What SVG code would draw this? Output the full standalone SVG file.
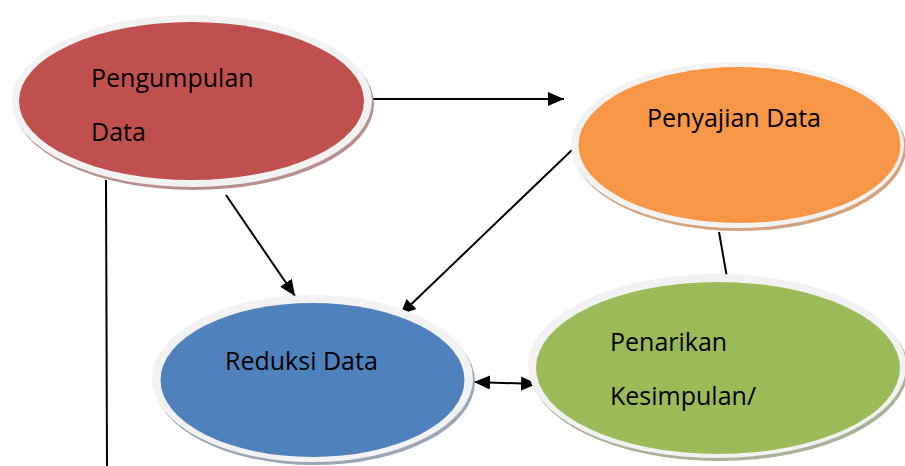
<svg xmlns="http://www.w3.org/2000/svg" width="905" height="466" viewBox="0 0 905 466">
<defs>
<style>
.ring{fill:#F2F2F2}
.t{font-family:"Open Sans","Liberation Sans",sans-serif;font-size:25px;fill:#000}
.c{stroke:#000;stroke-width:2;fill:none}
</style>
<marker id="ah" viewBox="0 0 16 14" refX="16" refY="7" markerWidth="16" markerHeight="14" markerUnits="userSpaceOnUse" orient="auto-start-reverse">
<path d="M0,0 L16,7 L0,14 Z" fill="#000"/>
</marker>
</defs>
<rect width="905" height="466" fill="#fff"/>
<g id="connectors">
<line class="c" x1="373" y1="99" x2="564" y2="99" marker-end="url(#ah)"/>
<line class="c" x1="572" y1="150" x2="400" y2="315" marker-end="url(#ah)"/>
<line class="c" x1="226" y1="195" x2="295" y2="296" marker-end="url(#ah)"/>
<line class="c" x1="474" y1="382" x2="537" y2="384" marker-start="url(#ah)" marker-end="url(#ah)"/>
<line class="c" x1="719" y1="232" x2="729" y2="289" stroke-width="1.6"/>
<line class="c" x1="106" y1="180" x2="107" y2="466"/>
</g>
<g id="pengumpulan">
<ellipse cx="194" cy="104" rx="180" ry="86" fill="#B88F8F"/>
<ellipse class="ring" cx="192" cy="101" rx="180" ry="86"/>
<ellipse cx="191.5" cy="101" rx="172.5" ry="79" fill="#C0504D"/>
<text class="t" x="91" y="87">Pengumpulan</text>
<text class="t" x="91" y="141">Data</text>
</g>
<g id="penyajian">
<ellipse cx="739.5" cy="148" rx="166.5" ry="83" fill="#D4A37E"/>
<ellipse class="ring" cx="737.5" cy="145" rx="166.5" ry="83"/>
<ellipse cx="739.5" cy="145" rx="161" ry="78" fill="#F79646"/>
<text class="t" x="647" y="127">Penyajian Data</text>
</g>
<g id="reduksi">
<ellipse cx="314.5" cy="381.5" rx="160.5" ry="83.5" fill="#9AA5B5"/>
<ellipse class="ring" cx="312.5" cy="378.5" rx="160.5" ry="83.5"/>
<ellipse cx="312.5" cy="380" rx="152" ry="77" fill="#4F81BD"/>
<text class="t" x="225" y="370">Reduksi Data</text>
</g>
<g id="penarikan">
<ellipse cx="719" cy="369" rx="189" ry="92" fill="#A8B296"/>
<ellipse class="ring" cx="717" cy="366" rx="189" ry="92"/>
<ellipse cx="718" cy="368" rx="182" ry="86" fill="#9BBB59"/>
<text class="t" x="610" y="351">Penarikan</text>
<text class="t" x="610" y="405">Kesimpulan/</text>
</g>
</svg>
